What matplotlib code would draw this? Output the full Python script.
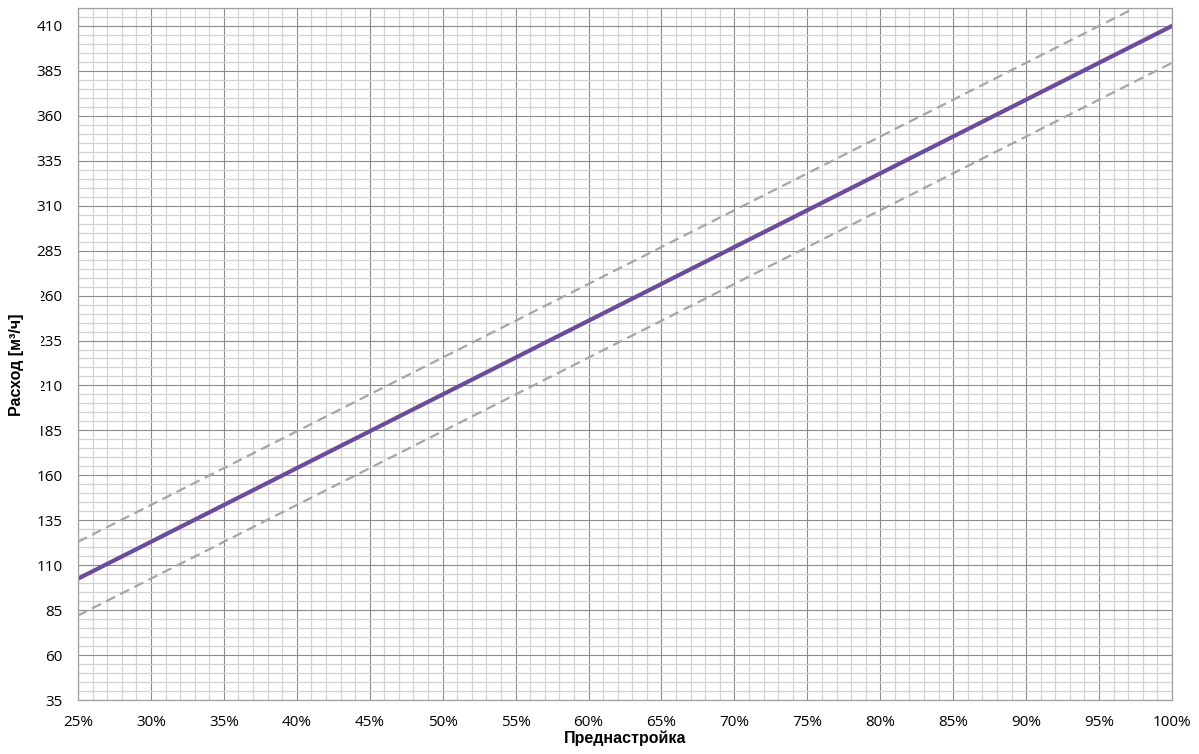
import matplotlib
matplotlib.use("Agg")
import matplotlib.pyplot as plt
from matplotlib.patches import Rectangle
from matplotlib.ticker import MultipleLocator, FuncFormatter

# Data
presetting = [25, 100]               # % presetting
flow_nominal = [102.5, 410.0]        # m3/h
flow_upper = [123.0, 430.5]
flow_lower = [82.0, 389.5]
x_ticks = list(range(25, 101, 5))
y_ticks = list(range(35, 411, 25))

plt.rcParams['font.family'] = ['Open Sans', 'DejaVu Sans']

W, H = 1199, 754
fig = plt.figure(figsize=(W/100, H/100), dpi=100)
ax = fig.add_axes([78/W, 1-700/H, (1172-78)/W, (700-8)/H])

ax.set_xlim(25, 100)
ax.set_ylim(35, 420)
ax.set_xticks(x_ticks)
ax.xaxis.set_minor_locator(MultipleLocator(1))
ax.set_yticks(y_ticks)
ax.yaxis.set_minor_locator(MultipleLocator(5))
ax.xaxis.set_major_formatter(FuncFormatter(lambda v, p: f"{int(round(v))}%"))

ax.grid(which='minor', color='#d2d2d2', linewidth=0.9)
ax.grid(which='major', color='#8c8c8c', linewidth=0.8)
ax.set_axisbelow(True)
for s in ax.spines.values():
    s.set_color('#a0a0a0')
    s.set_linewidth(0.9)
ax.tick_params(which='both', length=0, labelsize=11, colors='black')
ax.tick_params(axis='x', pad=11)
ax.tick_params(axis='y', pad=11)

ax.plot(presetting, flow_upper, color='#a6a6a6', linewidth=1.6, dashes=(4.5, 2.6))
ax.plot(presetting, flow_lower, color='#a6a6a6', linewidth=1.6, dashes=(4.5, 2.6))
ax.plot(presetting, flow_nominal, color='#6b4c9a', linewidth=3.0)

ax.set_xlabel('Преднастройка', fontsize=11.5, fontweight='bold',
              family=['Liberation Sans', 'DejaVu Sans'], labelpad=0)

# white box behind y label (partly hides tick digits as in reference)
fig.patches.append(Rectangle((0, 1-445/H), 41/W, 160/H, transform=fig.transFigure,
                             facecolor='white', edgecolor='none', zorder=1))
fig.text(17/W, 1-365/H, 'Расход [м³/ч]', rotation=90, ha='center', va='center',
         fontsize=11.5, fontweight='bold', family=['Liberation Sans', 'DejaVu Sans'],
         zorder=2)

fig.savefig('out.png', dpi=100)
